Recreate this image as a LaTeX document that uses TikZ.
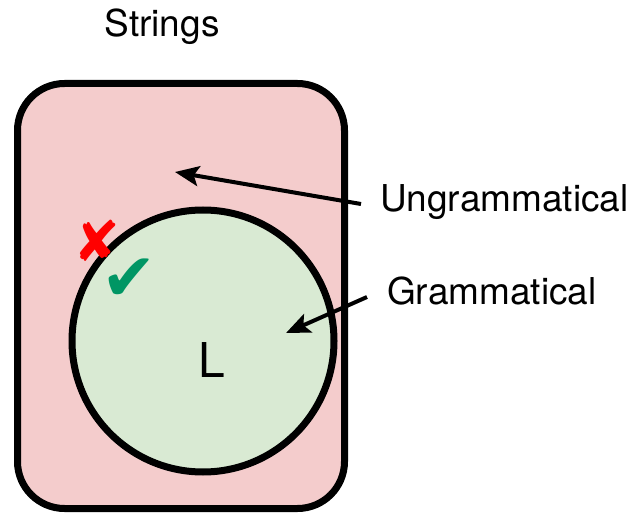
\documentclass[tikz,border=0pt]{standalone}
\usepackage{fontspec}
\setmainfont{TeX Gyre Heros}
\newfontfamily\symfont{DejaVu Sans}
\usetikzlibrary{arrows.meta}
\definecolor{badpink}{RGB}{244,204,204}
\definecolor{goodgreen}{RGB}{217,234,211}
\definecolor{markred}{RGB}{255,0,0}
\definecolor{markgreen}{RGB}{0,150,100}
\tikzset{
  label text/.style={inner sep=0pt, anchor=base west, font=\fontsize{37}{44}\selectfont},
  pointer/.style={line width=4pt, -{Stealth[length=24pt,width=20pt,inset=5pt]}},
  region/.style={line width=7pt},
}
\begin{document}
\begin{tikzpicture}[x=1pt,y=-1pt]
  \useasboundingbox (0,0) rectangle (635,513);
  % set of all strings
  \draw[region, fill=badpink, rounded corners=47pt] (17.5,83.5) rectangle (344.5,508.5);
  % the language L
  \draw[region, fill=goodgreen] (203,341) circle[radius=131];
  \node[inner sep=0pt, anchor=base, font=\fontsize{37}{44}\selectfont] (strings) at (162,37) {Strings};
  \node[inner sep=0pt, anchor=base, font=\fontsize{48}{56}\selectfont] (lang) at (212,377) {L};
  \node[label text] (ungram) at (380,212) {Ungrammatical};
  \node[label text] (gram) at (387,305) {Grammatical};
  \coordinate (ungramtail) at (361,204);
  \coordinate (ungramtip) at (175,172);
  \coordinate (gramtail) at (367,297);
  \coordinate (gramtip) at (286,333);
  \draw[pointer] (ungramtail) -- (ungramtip);
  \draw[pointer] (gramtail) -- (gramtip);
  \node[inner sep=0pt, text=markred, font=\symfont\fontsize{56}{62}\selectfont] (cross) at (97,241) {✘};
  \node[inner sep=0pt, text=markgreen, font=\symfont\fontsize{66}{72}\selectfont] (tick) at (129,280) {✔};
\end{tikzpicture}
\end{document}
